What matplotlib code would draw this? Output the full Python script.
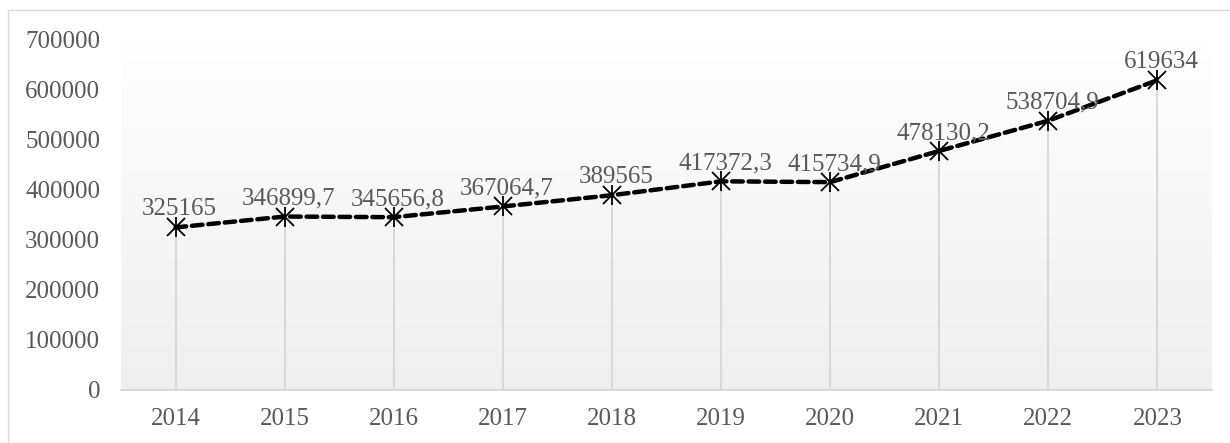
import numpy as np
import matplotlib
matplotlib.use("Agg")
import matplotlib.pyplot as plt
from matplotlib.patches import Rectangle

# data
years = ['2014', '2015', '2016', '2017', '2018', '2019', '2020', '2021', '2022', '2023']
values = [325165, 346899.7, 345656.8, 367064.7, 389565, 417372.3, 415734.9, 478130.2, 538704.9, 619634]
y_ticks = [0, 100000, 200000, 300000, 400000, 500000, 600000, 700000]


def fmt(v):
    s = f"{v:.1f}"
    if s.endswith('.0'):
        s = s[:-2]
    return s.replace('.', ',')


plt.rcParams['font.family'] = ['Liberation Serif', 'DejaVu Serif']
text_color = '#595959'
grid_color = '#d9d9d9'

fig = plt.figure(figsize=(12.30, 4.43), dpi=100)
ax = fig.add_axes([121 / 1230, 1 - 390 / 443, (1212 - 121) / 1230, (390 - 40) / 443])

x = np.arange(len(years))
ax.set_xlim(-0.5, len(years) - 0.5)
ax.set_ylim(0, 700000)

# gradient background of the plot area (white at top -> light gray at bottom)
grad = np.linspace(1.0, 0.0, 256).reshape(-1, 1)
ax.imshow(grad, extent=[-0.5, len(years) - 0.5, 0, 700000], aspect='auto',
          cmap=matplotlib.colors.LinearSegmentedColormap.from_list('g', ['#efefef', '#ffffff']),
          vmin=0, vmax=1, zorder=0, origin='upper')

# drop lines
ax.vlines(x, 0, values, color=grid_color, linewidth=1.4, zorder=1)

# main dashed line
ax.plot(x, values, color='black', linewidth=3.2, linestyle=(0, (2.4, 1.3)),
        dash_capstyle='round', zorder=3)
ax.plot(x, values, linestyle='none', marker='x', markersize=13.5, markeredgewidth=1.3,
        color='black', zorder=4)
ax.plot(x, values, linestyle='none', marker='|', markersize=14.5, markeredgewidth=1.3,
        color='black', zorder=4)

for xi, v in zip(x, values):
    ax.annotate(fmt(v), (xi, v), xytext=(3, 5), textcoords='offset points',
                ha='center', va='bottom', fontsize=18, color=text_color, zorder=5)

ax.set_xticks(x)
ax.set_xticklabels(years)
ax.set_yticks(y_ticks)
ax.set_yticklabels([str(t) for t in y_ticks])
ax.tick_params(axis='both', length=0, labelsize=18, labelcolor=text_color)
ax.tick_params(axis='y', pad=15)
ax.tick_params(axis='x', pad=13)

for side in ['top', 'right', 'left']:
    ax.spines[side].set_visible(False)
ax.spines['bottom'].set_color(grid_color)
ax.spines['bottom'].set_linewidth(1.4)
ax.spines['bottom'].set_zorder(2)

# chart border
fig.patches.append(Rectangle((8 / 1230, -0.1), 1.2, 1 - 10 / 443 + 0.1,
                             transform=fig.transFigure, fill=False,
                             edgecolor='#d9d9d9', linewidth=1.0))

fig.savefig('out.png', dpi=100)
